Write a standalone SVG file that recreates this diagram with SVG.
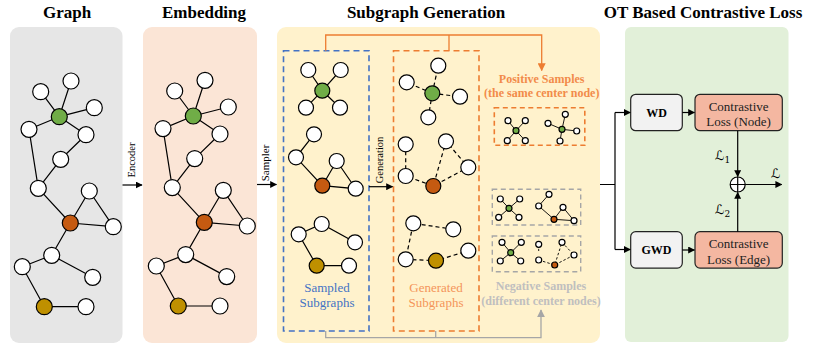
<svg xmlns="http://www.w3.org/2000/svg" width="820" height="348" viewBox="0 0 820 348">
<defs>
<style>
text{font-family:"Liberation Serif","Times New Roman",serif;}
.title{font-size:17px;font-weight:bold;text-anchor:middle;fill:#000;}
.n{fill:#fff;stroke:#000;stroke-width:1.2;}
.gr{fill:#70ad47;}
.or{fill:#c55a11;}
.go{fill:#bf9000;}
.e{stroke:#000;stroke-width:1.2;fill:none;}
.d{stroke-dasharray:4,3;}
.ds{stroke-dasharray:2.5,2;}
.m{stroke-width:0.9;}
.lbl{font-size:10.5px;text-anchor:middle;}
.box{fill:#f2f2f2;stroke:#222;stroke-width:1.2;}
.cl{fill:#f4b7a1;stroke:#222;stroke-width:1.2;}
.bt{font-size:12px;font-weight:bold;text-anchor:middle;}
.ct{font-size:13px;text-anchor:middle;}
.L{font-family:"DejaVu Serif","DejaVu Sans",serif;font-size:13px;font-style:italic;}
</style>
<marker id="ak" viewBox="0 0 10 10" refX="9" refY="5" markerWidth="7" markerHeight="7" markerUnits="userSpaceOnUse" orient="auto"><path d="M0,0 L10,5 L0,10 z" fill="#000"/></marker>
<marker id="ao" viewBox="0 0 10 10" refX="9" refY="5" markerWidth="8" markerHeight="8" markerUnits="userSpaceOnUse" orient="auto"><path d="M0,0 L10,5 L0,10 z" fill="#ed7d31"/></marker>
<marker id="ag" viewBox="0 0 10 10" refX="9" refY="5" markerWidth="8" markerHeight="8" markerUnits="userSpaceOnUse" orient="auto"><path d="M0,0 L10,5 L0,10 z" fill="#a6a6a6"/></marker>
</defs>

<!-- panels -->
<g id="panels">
<rect x="10" y="27" width="112.5" height="316" rx="9" fill="#e6e6e6"/>
<rect x="143" y="27" width="114" height="316" rx="9" fill="#fbe5d6"/>
<rect x="277" y="27" width="323" height="316" rx="9" fill="#fff2cc"/>
<rect x="625" y="27" width="163.5" height="315" rx="6" fill="#e2f0d9"/>
</g>

<g id="titles">
<text class="title" x="67" y="18">Graph</text>
<text class="title" x="204" y="18">Embedding</text>
<text class="title" x="426" y="18">Subgraph Generation</text>
<text class="title" x="703" y="18">OT Based Contrastive Loss</text>
</g>

<!-- Graph -->
<g id="graph">
<path class="e" d="M59.3,116.7L71,81M59.3,116.7L40.7,91.7M59.3,116.7L94.3,107.7M59.3,116.7L29,129.3M59.3,116.7L86,134.7M86,134.7L60.7,159.3M60.7,159.3L38.3,188.3M29,129.3L38.3,188.3M38.3,188.3L70.3,223M70.3,223L89.3,191M89.3,191L113.3,226.7M70.3,223L113.3,226.7M70.3,223L51.7,255.3M51.7,255.3L22.3,266.7M51.7,255.3L92.7,277.3M22.3,266.7L44.3,306.7M44.3,306.7L86,306.7"/>
<circle class="n" cx="71" cy="81" r="8"/>
<circle class="n" cx="40.7" cy="91.7" r="8"/>
<circle class="n" cx="94.3" cy="107.7" r="8"/>
<circle class="n gr" cx="59.3" cy="116.7" r="8"/>
<circle class="n" cx="29" cy="129.3" r="8"/>
<circle class="n" cx="86" cy="134.7" r="8"/>
<circle class="n" cx="60.7" cy="159.3" r="8"/>
<circle class="n" cx="38.3" cy="188.3" r="8"/>
<circle class="n" cx="89.3" cy="191" r="8"/>
<circle class="n or" cx="70.3" cy="223" r="8"/>
<circle class="n" cx="113.3" cy="226.7" r="8"/>
<circle class="n" cx="51.7" cy="255.3" r="8"/>
<circle class="n" cx="22.3" cy="266.7" r="8"/>
<circle class="n" cx="92.7" cy="277.3" r="8"/>
<circle class="n go" cx="44.3" cy="306.7" r="8"/>
<circle class="n" cx="86" cy="306.7" r="8"/>
</g>

<!-- Embedding -->
<g id="embedding" transform="translate(134,-0.7)">
<path class="e" d="M59.3,116.7L71,81M59.3,116.7L40.7,91.7M59.3,116.7L94.3,107.7M59.3,116.7L29,129.3M59.3,116.7L86,134.7M86,134.7L60.7,159.3M60.7,159.3L38.3,188.3M29,129.3L38.3,188.3M38.3,188.3L70.3,223M70.3,223L89.3,191M89.3,191L113.3,226.7M70.3,223L113.3,226.7M70.3,223L51.7,255.3M51.7,255.3L22.3,266.7M51.7,255.3L92.7,277.3M22.3,266.7L44.3,306.7M44.3,306.7L86,306.7"/>
<circle class="n" cx="71" cy="81" r="8"/>
<circle class="n" cx="40.7" cy="91.7" r="8"/>
<circle class="n" cx="94.3" cy="107.7" r="8"/>
<circle class="n gr" cx="59.3" cy="116.7" r="8"/>
<circle class="n" cx="29" cy="129.3" r="8"/>
<circle class="n" cx="86" cy="134.7" r="8"/>
<circle class="n" cx="60.7" cy="159.3" r="8"/>
<circle class="n" cx="38.3" cy="188.3" r="8"/>
<circle class="n" cx="89.3" cy="191" r="8"/>
<circle class="n or" cx="70.3" cy="223" r="8"/>
<circle class="n" cx="113.3" cy="226.7" r="8"/>
<circle class="n" cx="51.7" cy="255.3" r="8"/>
<circle class="n" cx="22.3" cy="266.7" r="8"/>
<circle class="n" cx="92.7" cy="277.3" r="8"/>
<circle class="n go" cx="44.3" cy="306.7" r="8"/>
<circle class="n" cx="86" cy="306.7" r="8"/>
</g>

<!-- Sampled subgraphs -->
<g id="sampled">
<rect x="283.5" y="50.7" width="85.5" height="280.3" fill="none" stroke="#4472c4" stroke-width="1.6" stroke-dasharray="6,4"/>
<path class="e" d="M322.3,90.7L308.3,70M322.3,90.7L340.7,70M322.3,90.7L306,107.7M322.3,90.7L340,107.7"/>
<circle class="n" cx="308.3" cy="70" r="7.5"/>
<circle class="n" cx="340.7" cy="70" r="7.5"/>
<circle class="n" cx="306" cy="107.7" r="7.5"/>
<circle class="n" cx="340" cy="107.7" r="7.5"/>
<circle class="n gr" cx="322.3" cy="90.7" r="7.5"/>
<path class="e" d="M314,134.3L296,157.3L322.3,185.7L336.7,161L355.7,188.7L322.3,185.7"/>
<circle class="n" cx="314" cy="134.3" r="7.5"/>
<circle class="n" cx="296" cy="157.3" r="7.5"/>
<circle class="n" cx="336.7" cy="161" r="7.5"/>
<circle class="n" cx="355.7" cy="188.7" r="7.5"/>
<circle class="n or" cx="322.3" cy="185.7" r="7.5"/>
<path class="e" d="M355,242.3L321.7,224L298.7,234.3L316.7,265.7L349,265.7"/>
<circle class="n" cx="321.7" cy="224" r="7.5"/>
<circle class="n" cx="298.7" cy="234.3" r="7.5"/>
<circle class="n" cx="355" cy="242.3" r="7.5"/>
<circle class="n" cx="349" cy="265.7" r="7.5"/>
<circle class="n go" cx="316.7" cy="265.7" r="7.5"/>
<text class="ct" x="327" y="292" fill="#4472c4">Sampled</text>
<text class="ct" x="327" y="307" fill="#4472c4">Subgraphs</text>
</g>

<!-- Generated subgraphs -->
<g id="generated">
<rect x="393.5" y="50.7" width="85.5" height="280.3" fill="none" stroke="#ed7d31" stroke-width="1.6" stroke-dasharray="6,4"/>
<path class="e d" d="M432.3,93.3L438.3,65.7M432.3,93.3L406.7,82.3M432.3,93.3L460,96.7M432.3,93.3L428.3,117.3"/>
<circle class="n" cx="438.3" cy="65.7" r="7.5"/>
<circle class="n" cx="406.7" cy="82.3" r="7.5"/>
<circle class="n" cx="460" cy="96.7" r="7.5"/>
<circle class="n" cx="428.3" cy="117.3" r="7.5"/>
<circle class="n gr" cx="432.3" cy="93.3" r="7.5"/>
<path class="e d" d="M405.7,144.3L405.7,176L433.3,186L446,141.3L468.3,167.3L433.3,186"/>
<circle class="n" cx="405.7" cy="144.3" r="7.5"/>
<circle class="n" cx="405.7" cy="176" r="7.5"/>
<circle class="n" cx="446" cy="141.3" r="7.5"/>
<circle class="n" cx="468.3" cy="167.3" r="7.5"/>
<circle class="n or" cx="433.3" cy="186" r="7.5"/>
<path class="e d" d="M453.3,229.3L413.3,223.3L405.7,259.3L436,260.7L468.3,250.7"/>
<circle class="n" cx="413.3" cy="223.3" r="7.5"/>
<circle class="n" cx="453.3" cy="229.3" r="7.5"/>
<circle class="n" cx="405.7" cy="259.3" r="7.5"/>
<circle class="n" cx="468.3" cy="250.7" r="7.5"/>
<circle class="n go" cx="436" cy="260.7" r="7.5"/>
<text class="ct" x="436" y="292" fill="#f4955a">Generated</text>
<text class="ct" x="436" y="307" fill="#f4955a">Subgraphs</text>
</g>

<!-- Positive samples -->
<g id="positive">
<text x="541.7" y="83" font-size="12" font-weight="bold" text-anchor="middle" fill="#f28b4a">Positive Samples</text>
<text x="541.7" y="97" font-size="12" font-weight="bold" text-anchor="middle" fill="#f28b4a">(the same center node)</text>
<rect x="494.3" y="107.7" width="90.5" height="37.5" fill="none" stroke="#ed7d31" stroke-width="1.6" stroke-dasharray="5,3.5"/>
<path class="e m" d="M516,130.7L508,120.7M516,130.7L525.3,120.7M516,130.7L507.3,140.7M516,130.7L525.3,140.7M562,129.3L565.3,114.3M562,129.3L548,123.3M562,129.3L576.7,131M562,129.3L560,141"/>
<circle class="n" cx="508" cy="120.7" r="3" stroke-width="0.9"/>
<circle class="n" cx="525.3" cy="120.7" r="3" stroke-width="0.9"/>
<circle class="n" cx="507.3" cy="140.7" r="3" stroke-width="0.9"/>
<circle class="n" cx="525.3" cy="140.7" r="3" stroke-width="0.9"/>
<circle class="n gr" cx="516" cy="130.7" r="3" stroke-width="0.9"/>
<circle class="n" cx="565.3" cy="114.3" r="3" stroke-width="0.9"/>
<circle class="n" cx="548" cy="123.3" r="3" stroke-width="0.9"/>
<circle class="n" cx="576.7" cy="131" r="3" stroke-width="0.9"/>
<circle class="n" cx="560" cy="141" r="3" stroke-width="0.9"/>
<circle class="n gr" cx="562" cy="129.3" r="3" stroke-width="0.9"/>
</g>

<!-- Negative samples -->
<g id="negative">
<rect x="492.3" y="189.3" width="88.4" height="35.7" fill="none" stroke="#a6a6a6" stroke-width="1.4" stroke-dasharray="5,3.5"/>
<path class="e m" d="M509,208.3L500.3,199M509,208.3L519.7,199M509,208.3L498.7,217.3M509,208.3L519,217.3M549,194.3L538.7,206L554,219.3L563,207.3L574,220.7L554,219.3"/>
<circle class="n" cx="500.3" cy="199" r="3" stroke-width="0.9"/>
<circle class="n" cx="519.7" cy="199" r="3" stroke-width="0.9"/>
<circle class="n" cx="498.7" cy="217.3" r="3" stroke-width="0.9"/>
<circle class="n" cx="519" cy="217.3" r="3" stroke-width="0.9"/>
<circle class="n gr" cx="509" cy="208.3" r="3" stroke-width="0.9"/>
<circle class="n" cx="549" cy="194.3" r="3" stroke-width="0.9"/>
<circle class="n" cx="538.7" cy="206" r="3" stroke-width="0.9"/>
<circle class="n" cx="563" cy="207.3" r="3" stroke-width="0.9"/>
<circle class="n" cx="574" cy="220.7" r="3" stroke-width="0.9"/>
<circle class="n or" cx="554" cy="219.3" r="3" stroke-width="0.9"/>

<rect x="492.3" y="236" width="88.4" height="35.7" fill="none" stroke="#a6a6a6" stroke-width="1.4" stroke-dasharray="5,3.5"/>
<path class="e m" d="M510.7,252.7L502,242.3M510.7,252.7L521.3,242.3M510.7,252.7L500.3,261M510.7,252.7L520.7,261"/>
<path class="e m ds" d="M538.7,244.3L538.7,251M538.7,260L554.7,265L562,242.3L574,255L554.7,265"/>
<circle class="n" cx="502" cy="242.3" r="3" stroke-width="0.9"/>
<circle class="n" cx="521.3" cy="242.3" r="3" stroke-width="0.9"/>
<circle class="n" cx="500.3" cy="261" r="3" stroke-width="0.9"/>
<circle class="n" cx="520.7" cy="261" r="3" stroke-width="0.9"/>
<circle class="n gr" cx="510.7" cy="252.7" r="3" stroke-width="0.9"/>
<circle class="n" cx="538.7" cy="244.3" r="3" stroke-width="0.9"/>
<circle class="n" cx="538.7" cy="260" r="3" stroke-width="0.9"/>
<circle class="n" cx="562" cy="242.3" r="3" stroke-width="0.9"/>
<circle class="n" cx="574" cy="255" r="3" stroke-width="0.9"/>
<circle class="n or" cx="554.7" cy="265" r="3" stroke-width="0.9"/>
<text x="541" y="290" font-size="12" font-weight="bold" text-anchor="middle" fill="#bfbfbf">Negative Samples</text>
<text x="541" y="305" font-size="12" font-weight="bold" text-anchor="middle" fill="#bfbfbf">(different center nodes)</text>
</g>

<!-- OT blocks -->
<g id="wd"><rect class="box" x="630.7" y="94.3" width="51.6" height="36.4" rx="5"/><text class="bt" x="656.5" y="116.5">WD</text></g>
<g id="gwd"><rect class="box" x="630.7" y="231.7" width="51.6" height="36.4" rx="5"/><text class="bt" x="656.5" y="254">GWD</text></g>
<g id="cl-node"><rect class="cl" x="695" y="94.3" width="87.3" height="36.4" rx="5"/><text class="ct" x="738.6" y="110.5" fill="#222">Contrastive</text><text class="ct" x="738.6" y="126" fill="#222">Loss (Node)</text></g>
<g id="cl-edge"><rect class="cl" x="695" y="231.7" width="87.3" height="36.4" rx="5"/><text class="ct" x="738.6" y="248" fill="#222">Contrastive</text><text class="ct" x="738.6" y="263.5" fill="#222">Loss (Edge)</text></g>
<g id="sum"><circle cx="737.7" cy="184.5" r="7.5" fill="#fff" stroke="#000" stroke-width="1.2"/><path class="e" d="M730.2,184.5H745.2M737.7,177V192"/></g>

<!-- connectors -->
<g id="connectors">
<path class="e" d="M122.5,185H142" marker-end="url(#ak)"/>
<path class="e" d="M257,184.5H276.5" marker-end="url(#ak)"/>
<path class="e" d="M369,186.7H392.5" marker-end="url(#ak)"/>
<path d="M325.7,50.7V35H541.7V70.5" fill="none" stroke="#ed7d31" stroke-width="1.3" marker-end="url(#ao)"/>
<path d="M449,35V50.7" fill="none" stroke="#ed7d31" stroke-width="1.3"/>
<path d="M325.7,331V337.7H541V310" fill="none" stroke="#a6a6a6" stroke-width="1.3" marker-end="url(#ag)"/>
<path d="M435.7,331V337.7" fill="none" stroke="#a6a6a6" stroke-width="1.3"/>
<path class="e" d="M600,184.5H615M615,112.5V249.5"/>
<path class="e" d="M615,112.5H630.2" marker-end="url(#ak)"/>
<path class="e" d="M615,249.5H630.2" marker-end="url(#ak)"/>
<path class="e" d="M682.3,112.5H694.5" marker-end="url(#ak)"/>
<path class="e" d="M682.3,250H694.5" marker-end="url(#ak)"/>
<path class="e" d="M737.7,130.7V176.5" marker-end="url(#ak)"/>
<path class="e" d="M737.7,231.7V192.5" marker-end="url(#ak)"/>
<path class="e" d="M745.2,184.5H781.7" marker-end="url(#ak)"/>
</g>

<g id="labels">
<text class="lbl" transform="translate(135,160) rotate(-90)">Encoder</text>
<text class="lbl" transform="translate(269,163) rotate(-90)" style="font-size:11px">Sampler</text>
<text class="lbl" transform="translate(383.3,160) rotate(-90)">Generation</text>
<text class="L" x="771" y="178">ℒ</text>
<text class="L" x="715" y="160">ℒ<tspan font-size="9" font-style="normal" dy="3">1</tspan></text>
<text class="L" x="715" y="214">ℒ<tspan font-size="9" font-style="normal" dy="3">2</tspan></text>
</g>
</svg>
